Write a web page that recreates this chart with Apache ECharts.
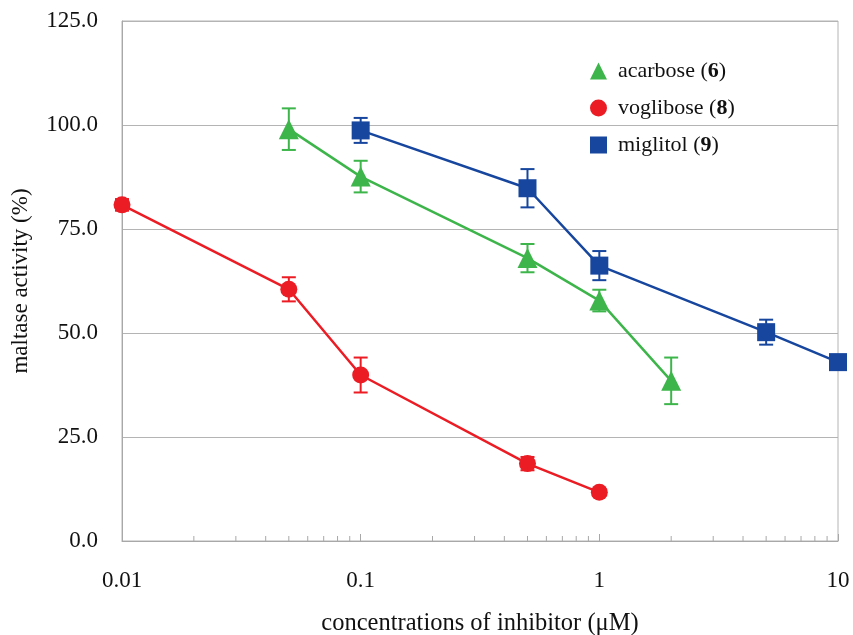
<!DOCTYPE html>
<html>
<head>
<meta charset="utf-8">
<script src="https://cdn.jsdelivr.net/npm/echarts@6/dist/echarts.min.js"></script>
<style>
  html, body { margin: 0; padding: 0; background: #fff; }
  #chart { width: 853px; height: 635px; }
</style>
</head>
<body>
<div id="chart"></div>
<script>
// concentrations (uM) and activity (%)
const acarboseX = [0.05, 0.1, 0.5, 1, 2];
const acarboseY = [99.0, 87.6, 68.0, 57.8, 38.5];
const acarboseErr = [5.0, 3.8, 3.4, 2.6, 5.6];

const vogliboseX = [0.01, 0.05, 0.1, 0.5, 1];
const vogliboseY = [80.8, 60.5, 39.9, 18.6, 11.7];
const vogliboseErr = [1.4, 2.9, 4.2, 1.6, 0.8];

const miglitolX = [0.1, 0.5, 1, 5, 10];
const miglitolY = [98.7, 84.8, 66.2, 50.2, 43.0];
const miglitolErr = [3.0, 4.6, 3.5, 3.0, 1.2];

const yTicks = [0, 25, 50, 75, 100, 125];
const xTickLabels = ['0.01', '0.1', '1', '10'];
const minorTickValues = [0.02, 0.03, 0.04, 0.05, 0.06, 0.07, 0.08, 0.09,
  0.2, 0.3, 0.4, 0.5, 0.6, 0.7, 0.8, 0.9,
  2, 3, 4, 5, 6, 7, 8, 9];

const GREEN = '#3db54a';
const RED = '#ec1c24';
const BLUE = '#17469e';
const FONT = '"Liberation Serif", "DejaVu Serif", serif';

let chart = echarts.init(document.getElementById('chart'));

function pairs(xs, ys) {
    return xs.map((x, i) => [x, ys[i]]);
}
function errData(xs, ys, es) {
    return xs.map((x, i) => [x, ys[i] - es[i], ys[i] + es[i]]);
}
function errSeries(name, xs, ys, es, color) {
    return {
        name: name,
        type: 'custom',
        z: 1,
        silent: true,
        data: errData(xs, ys, es),
        renderItem: function (params, api) {
            const lo = api.coord([api.value(0), api.value(1)]);
            const hi = api.coord([api.value(0), api.value(2)]);
            const w = 7;
            const st = { stroke: color, lineWidth: 2 };
            return {
                type: 'group',
                children: [
                    { type: 'line', shape: { x1: lo[0], y1: lo[1], x2: hi[0], y2: hi[1] }, style: st },
                    { type: 'line', shape: { x1: lo[0] - w, y1: lo[1], x2: lo[0] + w, y2: lo[1] }, style: st },
                    { type: 'line', shape: { x1: hi[0] - w, y1: hi[1], x2: hi[0] + w, y2: hi[1] }, style: st }
                ]
            };
        }
    };
}
function lineSeries(name, xs, ys, color, symbol, size) {
    return {
        name: name,
        type: 'line',
        z: 3,
        data: pairs(xs, ys),
        symbol: symbol,
        symbolSize: size,
        showAllSymbol: true,
        itemStyle: { color: color, opacity: 1 },
        lineStyle: { color: color, width: 2.5 },
        emphasis: { disabled: true }
    };
}

const boldNum = { acarbose: '6', voglibose: '8', miglitol: '9' };

chart.setOption({
    animation: false,
    backgroundColor: '#fff',
    grid: {
        left: 122, right: 15, top: 21, bottom: 94,
        outerBoundsMode: 'none',
        containLabel: false,
        show: true, borderColor: '#b4b4b4', borderWidth: 1
    },
    legend: {
        orient: 'vertical',
        left: 585,
        top: 55,
        itemWidth: 17,
        itemHeight: 17,
        itemGap: 15,
        data: [
            { name: 'acarbose', icon: 'triangle' },
            { name: 'voglibose', icon: 'circle' },
            { name: 'miglitol', icon: 'rect' }
        ],
        formatter: function (n) {
            return '{a|' + n + ' (}{b|' + boldNum[n] + '}{a|)}';
        },
        textStyle: {
            padding: [0, 0, 0, 6],
            rich: {
                a: { fontFamily: FONT, fontSize: 22, color: '#111' },
                b: { fontFamily: FONT, fontSize: 22, fontWeight: 'bold', color: '#111' }
            }
        }
    },
    xAxis: {
        type: 'log',
        logBase: 10,
        min: 0.01,
        max: 10,
        name: 'concentrations of inhibitor (\u03bcM)',
        nameLocation: 'middle',
        nameGap: 70,
        nameTextStyle: { fontFamily: FONT, fontSize: 24.5, color: '#111' },
        axisLine: { lineStyle: { color: '#a8a8a8', width: 1 } },
        axisTick: { inside: true, length: 7, lineStyle: { color: '#a8a8a8' } },
        splitLine: { show: false },
        axisLabel: {
            margin: 28,
            fontFamily: FONT, fontSize: 23, color: '#111',
            formatter: function (v) {
                const idx = Math.round(Math.log10(v) + 2);
                return xTickLabels[idx] !== undefined ? xTickLabels[idx] : '';
            }
        }
    },
    yAxis: {
        type: 'value',
        min: yTicks[0],
        max: yTicks[yTicks.length - 1],
        interval: 25,
        name: 'maltase activity (%)',
        nameLocation: 'middle',
        nameGap: 90,
        nameTextStyle: { fontFamily: FONT, fontSize: 23, color: '#111' },
        axisLine: { show: true, lineStyle: { color: '#a8a8a8', width: 1 } },
        axisTick: { show: false },
        splitLine: { lineStyle: { color: '#b4b4b4', width: 1 } },
        axisLabel: {
            margin: 24,
            fontFamily: FONT, fontSize: 23, color: '#111',
            formatter: v => v.toFixed(1)
        }
    },
    series: [
        {
            name: 'minorTicks',
            type: 'custom',
            silent: true,
            z: 1,
            data: minorTickValues.map(v => [v, 0]),
            renderItem: function (params, api) {
                const p = api.coord([api.value(0), 0]);
                return {
                    type: 'line',
                    shape: { x1: p[0], y1: p[1], x2: p[0], y2: p[1] - 5 },
                    style: { stroke: '#a8a8a8', lineWidth: 1 }
                };
            }
        },
        errSeries('acarboseErr', acarboseX, acarboseY, acarboseErr, GREEN),
        errSeries('vogliboseErr', vogliboseX, vogliboseY, vogliboseErr, RED),
        errSeries('miglitolErr', miglitolX, miglitolY, miglitolErr, BLUE),
        lineSeries('acarbose', acarboseX, acarboseY, GREEN, 'triangle', 20),
        lineSeries('voglibose', vogliboseX, vogliboseY, RED, 'circle', 17),
        lineSeries('miglitol', miglitolX, miglitolY, BLUE, 'rect', 18)
    ]
});
</script>
</body>
</html>
